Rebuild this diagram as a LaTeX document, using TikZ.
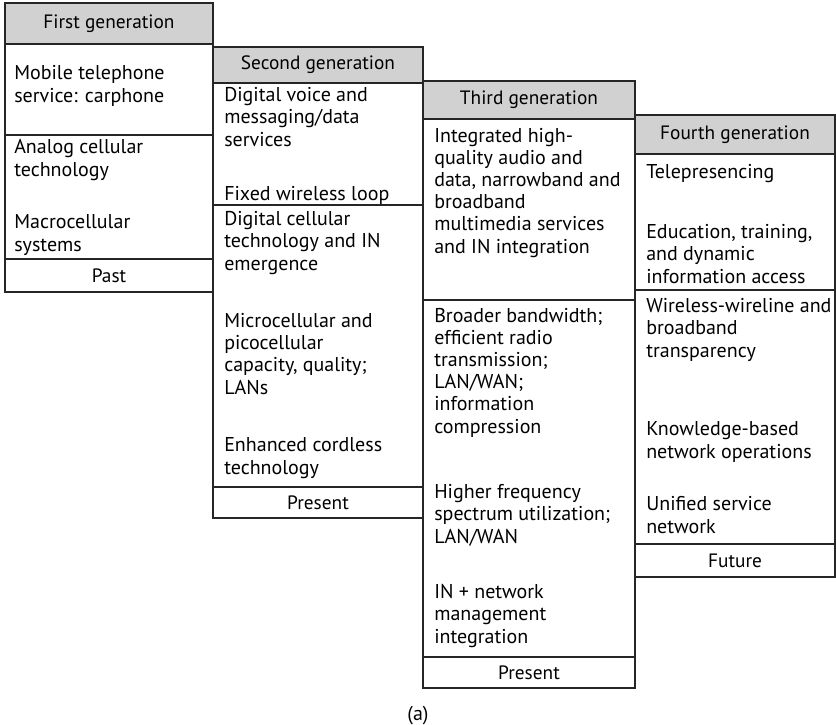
\documentclass[tikz,border=0pt]{standalone}
\usepackage{fontspec}
\setmainfont{PT Sans}
\usepackage{tikz}
\usetikzlibrary{positioning}

\newcommand{\genfont}{\fontsize{14.5}{16.65}\selectfont}
\newcommand{\itemfont}{\fontsize{15}{16.65}\selectfont}

\begin{document}
\begin{tikzpicture}[
	x=0.75pt, y=-0.75pt,
	gen/.style={rectangle, draw=black!85, line width=1.1pt, outer sep=0pt,
		inner sep=0pt, font=\genfont},
	head/.style={gen, fill=black!18},
	cell/.style={gen, fill=white},
	period/.style={gen, fill=white},
	% items are placed by the baseline of their last line
	item/.style={anchor=base west, align=left, inner sep=0pt, font=\itemfont}
	]
	\useasboundingbox (0,0) rectangle (836,725);
	
	% First generation
	\node[head, anchor=north west, minimum width=156pt, minimum height=30.75pt]
	(g1h) at (5,3) {First generation};
	\node[cell, below=0pt of g1h, minimum width=156pt, minimum height=68.25pt] (g1s1) {};
	\node[cell, below=0pt of g1s1, minimum width=156pt, minimum height=93pt] (g1s2) {};
	\node[period, below=0pt of g1s2, minimum width=156pt, minimum height=24.75pt] (g1p) {Past};
	
	\node[item] (t11) at (14,102) {Mobile telephone\\service: carphone};
	\node[item] (t12) at (14,176) {Analog cellular\\technology};
	\node[item] (t13) at (14,251) {Macrocellular\\systems};
	
	% Second generation
	\node[head, anchor=north west, minimum width=157.5pt, minimum height=27pt]
	(g2h) at (213,47) {Second generation};
	\node[cell, below=0pt of g2h, minimum width=157.5pt, minimum height=91.5pt] (g2s1) {};
	\node[cell, below=0pt of g2s1, minimum width=157.5pt, minimum height=211.5pt] (g2s2) {};
	\node[period, below=0pt of g2s2, minimum width=157.5pt, minimum height=23.25pt] (g2p) {Present};
	
	\node[item] (t21) at (224,146) {Digital voice and\\messaging/data\\services};
	\node[item] (t22) at (224,200) {Fixed wireless loop};
	\node[item] (t23) at (224,270) {Digital cellular\\technology and IN\\emergence};
	\node[item] (t24) at (224,394) {Microcellular and\\picocellular\\capacity, quality;\\LANs};
	\node[item] (t25) at (224,474) {Enhanced cordless\\technology};
	
	% Third generation
	\node[head, anchor=north west, minimum width=159pt, minimum height=28.5pt]
	(g3h) at (423,81) {Third generation};
	\node[cell, below=0pt of g3h, minimum width=159pt, minimum height=135.75pt] (g3s1) {};
	\node[cell, below=0pt of g3s1, minimum width=159pt, minimum height=267.75pt] (g3s2) {};
	\node[period, below=0pt of g3s2, minimum width=159pt, minimum height=23.25pt] (g3p) {Present};
	
	\node[item] (t31) at (434,253) {Integrated high-\\quality audio and\\data, narrowband and\\broadband\\multimedia services\\and IN integration};
	\node[item] (t32) at (434,433) {Broader bandwidth;\\efficient radio\\transmission;\\LAN/WAN;\\information\\compression};
	\node[item] (t33) at (434,543) {Higher frequency\\spectrum utilization;\\LAN/WAN};
	\node[item] (t34) at (434,643) {IN + network\\management\\integration};
	
	% Fourth generation
	\node[head, anchor=north west, minimum width=150pt, minimum height=29.25pt]
	(g4h) at (635,115) {Fourth generation};
	\node[cell, below=0pt of g4h, minimum width=150pt, minimum height=102pt] (g4s1) {};
	\node[cell, below=0pt of g4s1, minimum width=150pt, minimum height=190.5pt] (g4s2) {};
	\node[period, below=0pt of g4s2, minimum width=150pt, minimum height=24.75pt] (g4p) {Future};
	
	\node[item] (t41) at (646,178) {Telepresencing};
	\node[item] (t42) at (646,283) {Education, training,\\and dynamic\\information access};
	\node[item] (t43) at (646,357) {Wireless-wireline and\\broadband\\transparency};
	\node[item] (t44) at (646,458) {Knowledge-based\\network operations};
	\node[item] (t45) at (646,533) {Unified service\\network};
	
	% Caption
	\node[item, anchor=base] (cap) at (418,720) {(a)};
	
\end{tikzpicture}
\end{document}
